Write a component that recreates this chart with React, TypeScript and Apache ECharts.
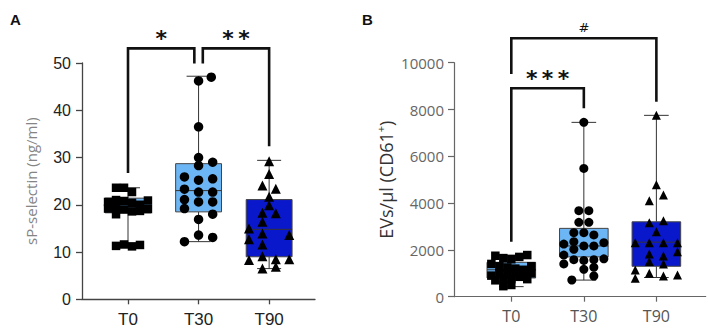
import { useEffect, useRef } from "react";
import * as echarts from "echarts";

const categories = ["T0", "T30", "T90"];

// ---------- Panel A: sP-selectin (ng/ml) ----------
const aT0Values = [23.6, 23.6, 22.7, 20.6, 21.0, 20.8, 20.4, 20.0, 20.9, 19.2, 19.5, 19.0, 18.6, 18.7, 19.1, 18.0, 11.3, 11.6, 11.2, 11.5];
const aT0Cols = [-1.5, -0.5, 0.5, -2.5, -1.5, -0.5, 0.5, 1.5, 2.5, -2.5, -1.5, -0.5, 0.5, 1.5, 2.5, -1.5, -1.5, -0.5, 0.5, 1.5];
const aT30Values = [46.2, 47.0, 36.5, 30.0, 28.3, 29.0, 25.9, 25.2, 25.5, 23.3, 22.7, 22.7, 21.1, 20.6, 20.6, 19.2, 16.9, 18.0, 12.2, 13.6, 13.1];
const aT30Cols = [0, 0.9, 0, 0, 0, 1, -1, 0, 1, -1, 0, 1, -1, 0, 1, -1, 0, 1, -1, 0, 1];
const aT90Values = [29.2, 26.5, 24.1, 23.4, 21.7, 19.9, 18.3, 18.2, 16.4, 15.0, 13.9, 12.7, 13.6, 11.6, 9.1, 8.3, 8.5, 8.5, 6.5, 6.9];
const aT90Cols = [0, 0, -1, 1, 0, 0, -1, 1, -1, -3, -1, -3, 3, -1, -1, -3, 1, 3, -1, 1];
// [min, Q1, median, Q3, max]
const aBoxStats = [
  [11.2, 18.3, 19.3, 21.4, 23.6],
  [12.2, 18.5, 23.0, 28.7, 47.2],
  [6.5, 9.0, 14.8, 21.1, 29.4],
];
// [x1, x2, yTop, yLeftEnd, yRightEnd]
const aBrackets = [
  [0, 0.94, 53.1, 26.7, 49.9],
  [1.06, 2, 53.1, 49.9, 32.4],
];
const aBracketLabels = ["*", "*\u2009*"];

// ---------- Panel B: EVs/µl (CD61+) ----------
const bT0Values = [1750, 1650, 1600, 1700, 1780, 1400, 1300, 1250, 1200, 1150, 1300, 900, 1000, 950, 1050, 900, 1000, 700, 800, 750, 850, 750, 450, 500];
const bT0Cols = [-2, -1, 0, 1, 2, -2.5, -1.5, -0.5, 0.5, 1.5, 2.5, -2.5, -1.5, -0.5, 0.5, 1.5, 2.5, -2, -1, 0, 1, 2, -1, 0];
const bT30Values = [7450, 5480, 3675, 3675, 3180, 3180, 2735, 2735, 2640, 2250, 2350, 2170, 2170, 2310, 2025, 1780, 1580, 1550, 1580, 1620, 1400, 1170, 1256, 885, 714];
const bT30Cols = [0, 0, -0.5, 0.5, -0.5, 0.5, -1, 0, 1, -2, -1, 0, 1, 2, -1, -2, -1, 0, 1, 2, -2, 0, 1, 1, -1.2];
const bT90Values = [7750, 4780, 4100, 4350, 3160, 3250, 2780, 2310, 2310, 2310, 2310, 1920, 1825, 1740, 1500, 1400, 1140, 790, 1000, 885, 930];
const bT90Cols = [0, 0, -1, 1, -1, 1, 0, -3, -1, 1, 3, 3, -1, 1, -1, 1, -3, -3, -1, 1, 3];
const bBoxStats = [
  [430, 800, 1150, 1470, 1780],
  [710, 1700, 2170, 2920, 7450],
  [820, 1300, 2330, 3200, 7750],
];
const bBrackets = [
  [0, 2, 11043, 9517, 8333],
  [0, 1, 8906, 2350, 8051],
];
const bBracketLabels = ["#", "*\u2009*\u2009*"];

const boxColors = ["#6cb6f5", "#6cb6f5", "#0a18cc"];

function boxSeries(stats: number[][], xAxisIndex: number, yAxisIndex: number, boxW: number, capW: number) {
  return {
    type: "custom",
    xAxisIndex,
    yAxisIndex,
    z: 2,
    clip: false,
    data: stats.map((s, i) => [i, ...s]),
    encode: { x: 0, y: [1, 2, 3, 4, 5] },
    renderItem: (params: any, api: any) => {
      const x = api.value(0);
      const cx = api.coord([x, api.value(1)])[0];
      const yMin = api.coord([x, api.value(1)])[1];
      const yQ1 = api.coord([x, api.value(2)])[1];
      const yMed = api.coord([x, api.value(3)])[1];
      const yQ3 = api.coord([x, api.value(4)])[1];
      const yMax = api.coord([x, api.value(5)])[1];
      const half = api.size([boxW, 0])[0] / 2;
      const capHalf = api.size([capW, 0])[0] / 2;
      const lineStyle = { stroke: "#333", lineWidth: 1 };
      return {
        type: "group",
        children: [
          { type: "line", shape: { x1: cx, y1: yMax, x2: cx, y2: yQ3 }, style: lineStyle },
          { type: "line", shape: { x1: cx, y1: yQ1, x2: cx, y2: yMin }, style: lineStyle },
          { type: "line", shape: { x1: cx - capHalf, y1: yMax, x2: cx + capHalf, y2: yMax }, style: lineStyle },
          { type: "line", shape: { x1: cx - capHalf, y1: yMin, x2: cx + capHalf, y2: yMin }, style: lineStyle },
          {
            type: "rect",
            shape: { x: cx - half, y: yQ3, width: half * 2, height: yQ1 - yQ3 },
            style: { fill: boxColors[params.dataIndex], stroke: "#444", lineWidth: 1 },
          },
          { type: "line", shape: { x1: cx - half, y1: yMed, x2: cx + half, y2: yMed }, style: { stroke: "#333", lineWidth: 1 } },
        ],
      };
    },
  };
}

function bracketSeries(brackets: number[][], labels: string[], xAxisIndex: number, yAxisIndex: number) {
  return {
    type: "custom",
    xAxisIndex,
    yAxisIndex,
    z: 5,
    clip: false,
    data: brackets,
    encode: { x: [0, 1], y: [2, 3, 4] },
    renderItem: (params: any, api: any) => {
      const x1 = api.value(0);
      const x2 = api.value(1);
      const pLB = api.coord([x1, api.value(3)]);
      const pLT = api.coord([x1, api.value(2)]);
      const pRT = api.coord([x2, api.value(2)]);
      const pRB = api.coord([x2, api.value(4)]);
      const label = labels[params.dataIndex];
      const isHash = label === "#";
      return {
        type: "group",
        children: [
          {
            type: "polyline",
            shape: { points: [pLB, pLT, pRT, pRB] },
            style: { stroke: "#111", lineWidth: 2.6, fill: "none", lineJoin: "miter" },
          },
          {
            type: "text",
            x: (pLT[0] + pRT[0]) / 2,
            y: pLT[1] - (isHash ? 4 : -1),
            style: {
              text: label,
              fill: "#111",
              font: isHash ? "13px 'DejaVu Sans'" : "bold 22px 'DejaVu Sans'",
              textAlign: "center",
              textVerticalAlign: "bottom",
            },
          },
        ],
      };
    },
  };
}

function points(values: number[], cols: number[], idx: number, step: number) {
  return values.map((v, i) => [idx + cols[i] * step, v]);
}

export default function App() {
  const ref = useRef<HTMLDivElement>(null);
  useEffect(() => {
    document.body.style.margin = "0";
    const chart = echarts.init(ref.current!, null, { renderer: "svg" });
    const fontA = "'Liberation Sans', Arial, sans-serif";
    const fontB = "'Open Sans', sans-serif";
    const xLabelFmt = (v: number) => categories[Math.round(v)] ?? "";
    const dot = { color: "#000", opacity: 1 };
    chart.setOption({
      animation: false,
      backgroundColor: "#fff",
      title: [
        { text: "A", left: 5, top: 7, textStyle: { fontSize: 15, fontWeight: "bold", color: "#111", fontFamily: fontA } },
        { text: "B", left: 357, top: 7, textStyle: { fontSize: 15, fontWeight: "bold", color: "#111", fontFamily: fontA } },
      ],
      grid: [
        { left: 82, top: 63, width: 233, height: 236.3 },
        { left: 454, top: 62.7, width: 251.7, height: 234 },
      ],
      xAxis: [
        {
          type: "value",
          gridIndex: 0,
          min: -0.652,
          max: 2.65,
          splitLine: { show: false },
          axisLine: { show: true, onZero: false, lineStyle: { color: "#444", width: 1.3 } },
          axisTick: { show: true, customValues: [0, 1, 2], length: 5, lineStyle: { color: "#444", width: 1.3 } },
          axisLabel: { customValues: [0, 1, 2], formatter: xLabelFmt, fontSize: 17, color: "#222", fontFamily: fontA, margin: 12 },
        },
        {
          type: "value",
          gridIndex: 1,
          min: -0.79,
          max: 2.68,
          splitLine: { show: false },
          axisLine: { show: true, onZero: false, lineStyle: { color: "#666", width: 1.2 } },
          axisTick: { show: true, customValues: [0, 1, 2], length: 5, lineStyle: { color: "#666", width: 1.2 } },
          axisLabel: { customValues: [0, 1, 2], formatter: xLabelFmt, fontSize: 16, color: "#555", fontFamily: fontB, margin: 11 },
        },
      ],
      yAxis: [
        {
          type: "value",
          gridIndex: 0,
          min: 0,
          max: 50,
          interval: 10,
          splitLine: { show: false },
          axisLine: { show: true, onZero: false, lineStyle: { color: "#444", width: 1.3 } },
          axisTick: { show: true, length: 6, lineStyle: { color: "#444", width: 1.3 } },
          axisLabel: { fontSize: 16, color: "#222", fontFamily: fontA, margin: 11, formatter: (v: number) => String(v) },
          name: "sP-selectin (ng/ml)",
          nameLocation: "middle",
          nameGap: 44,
          nameTextStyle: { fontSize: 15, color: "#858585", fontFamily: fontB },
        },
        {
          type: "value",
          gridIndex: 1,
          min: 0,
          max: 10000,
          interval: 2000,
          splitLine: { show: false },
          axisLine: { show: true, onZero: false, lineStyle: { color: "#666", width: 1.2 } },
          axisTick: { show: true, length: 6, lineStyle: { color: "#666", width: 1.2 } },
          axisLabel: { fontSize: 15, color: "#666", fontFamily: fontB, margin: 10, formatter: (v: number) => String(v) },
          name: "EVs/µl (CD61{sup|+})",
          nameLocation: "middle",
          nameGap: 58,
          nameTextStyle: {
            fontSize: 18,
            color: "#333",
            fontFamily: fontB,
            rich: { sup: { fontSize: 11, color: "#333", fontFamily: fontB, verticalAlign: "top", padding: [0, 0, 10, 0] } },
          },
        },
      ],
      series: [
        boxSeries(aBoxStats, 0, 0, 0.65, 0.34),
        boxSeries(bBoxStats, 1, 1, 0.67, 0.34),
        { type: "scatter", xAxisIndex: 0, yAxisIndex: 0, z: 3, symbol: "rect", symbolSize: 8.5, itemStyle: dot, data: points(aT0Values, aT0Cols, 0, 0.113) },
        { type: "scatter", xAxisIndex: 0, yAxisIndex: 0, z: 3, symbol: "circle", symbolSize: 9.5, itemStyle: dot, data: points(aT30Values, aT30Cols, 1, 0.2) },
        { type: "scatter", xAxisIndex: 0, yAxisIndex: 0, z: 3, symbol: "triangle", symbolSize: 10, itemStyle: dot, data: points(aT90Values, aT90Cols, 2, 0.095) },
        { type: "scatter", xAxisIndex: 1, yAxisIndex: 1, z: 3, symbol: "rect", symbolSize: 8.5, itemStyle: dot, data: points(bT0Values, bT0Cols, 0, 0.11) },
        { type: "scatter", xAxisIndex: 1, yAxisIndex: 1, z: 3, symbol: "circle", symbolSize: 9, itemStyle: dot, data: points(bT30Values, bT30Cols, 1, 0.138) },
        { type: "scatter", xAxisIndex: 1, yAxisIndex: 1, z: 3, symbol: "triangle", symbolSize: 9, itemStyle: dot, data: points(bT90Values, bT90Cols, 2, 0.097) },
        bracketSeries(aBrackets, aBracketLabels, 0, 0),
        bracketSeries(bBrackets, bBracketLabels, 1, 1),
      ],
    });
    return () => chart.dispose();
  }, []);
  return <div ref={ref} style={{ position: "absolute", left: 0, top: 0, width: 708, height: 335 }} />;
}
